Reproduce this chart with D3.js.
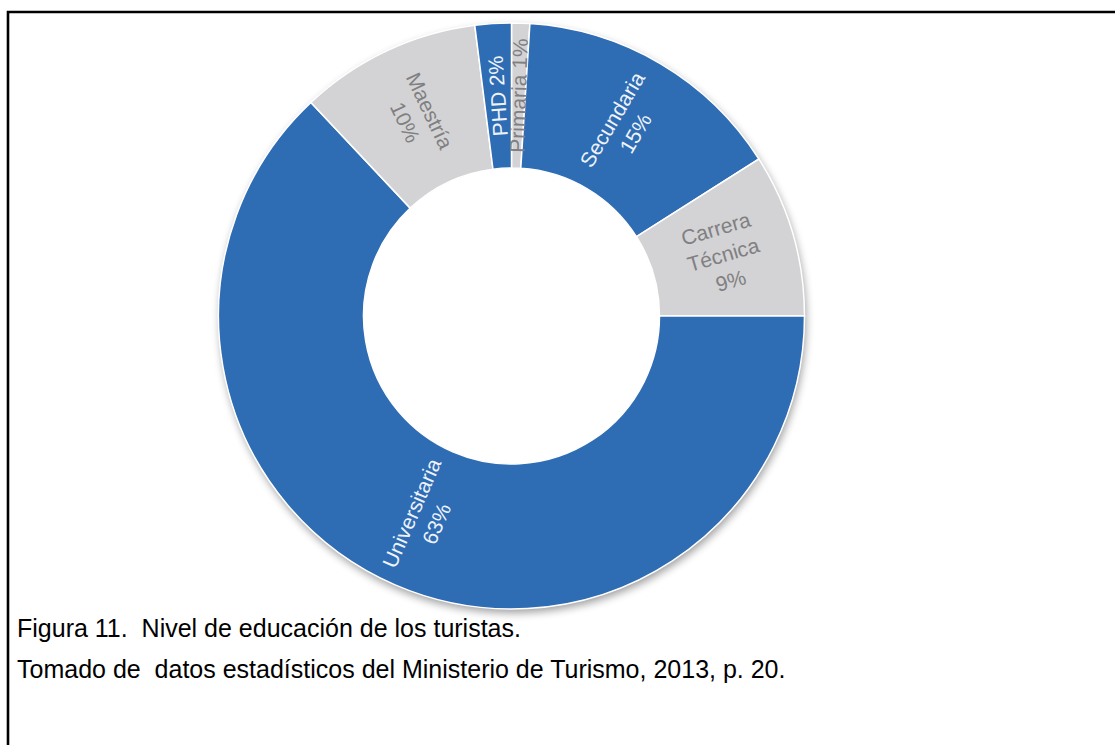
<!DOCTYPE html>
<html>
<head>
<meta charset="utf-8">
<script src="https://cdn.jsdelivr.net/npm/d3@7"></script>
<style>
  html, body { margin: 0; padding: 0; background: #fff; }
  svg { display: block; }
</style>
</head>
<body>
<svg id="chart" width="1115" height="745"></svg>
<script>
// Nivel de educación de los turistas (porcentaje)
const categories = ["Primaria", "Secundaria", "Carrera Técnica", "Universitaria", "Maestría", "PHD"];
const values = [1, 15, 9, 63, 10, 2];
// label lines drawn inside each slice
const labelLines = [
  ["Primaria 1%"],
  ["Secundaria", "15%"],
  ["Carrera", "Técnica", "9%"],
  ["Universitaria", "63%"],
  ["Maestría", "10%"],
  ["PHD 2%"]
];
const captionLines = [
  "Figura 11.  Nivel de educación de los turistas.",
  "Tomado de  datos estadísticos del Ministerio de Turismo, 2013, p. 20."
];

const BLUE = "#2e6cb3", GREY = "#d3d3d5";
const sliceFill = ["grey", "blue", "grey", "blue", "grey", "blue"];
const color = d3.scaleOrdinal().domain(["blue", "grey"]).range([BLUE, GREY]);
const textColor = d3.scaleOrdinal().domain(["blue", "grey"]).range(["#eef3fa", "#808082"]);

const svg = d3.select("#chart");
const W = 1115, H = 745;

// page frame
svg.append("path")
  .attr("d", `M8,${H + 10} L8,12 L${W + 10},12`)
  .attr("fill", "none").attr("stroke", "#000").attr("stroke-width", 2.6);

const cx = 511.5, cy = 316, rOuter = 293, rInner = 148;

const defs = svg.append("defs");
const f = defs.append("filter").attr("id", "shadow")
  .attr("x", "-20%").attr("y", "-20%").attr("width", "140%").attr("height", "140%");
f.append("feGaussianBlur").attr("stdDeviation", 4);

const g = svg.append("g").attr("transform", `translate(${cx},${cy})`);

// soft shadow under the ring
g.append("circle").attr("cx", 1.5).attr("cy", 4).attr("r", rOuter)
  .attr("fill", "#000").attr("opacity", 0.38).attr("filter", "url(#shadow)");
g.append("circle").attr("r", rInner).attr("fill", "#fff");

const data = categories.map((c, i) => ({ name: c, value: values[i], tone: sliceFill[i], lines: labelLines[i] }));
const pie = d3.pie().value(d => d.value).sort(null).startAngle(0).endAngle(2 * Math.PI);
const arc = d3.arc().innerRadius(rInner).outerRadius(rOuter);

const arcs = pie(data);

g.selectAll("path.slice").data(arcs).join("path")
  .attr("class", "slice")
  .attr("d", arc)
  .attr("fill", d => color(d.data.tone))
  .attr("stroke", "#fff").attr("stroke-width", 1.5);

// radial labels: text runs along the radius, kept upright
const fs = 21, lh = 27;
const labels = g.selectAll("g.lbl").data(arcs).join("g")
  .attr("class", "lbl")
  .attr("transform", d => {
    const [x, y] = arc.centroid(d);
    const mid = (d.startAngle + d.endAngle) / 2 * 180 / Math.PI;
    let rot = mid - 90;
    while (rot >= 80) rot -= 180;
    while (rot < -100) rot += 180;
    return `translate(${x},${y}) rotate(${rot})`;
  });

labels.each(function(d) {
  const n = d.data.lines.length;
  const t = d3.select(this).append("text")
    .attr("text-anchor", "middle")
    .attr("font-family", "'Liberation Sans', Arial, sans-serif")
    .attr("font-size", fs)
    .attr("fill", textColor(d.data.tone));
  d.data.lines.forEach((line, i) => {
    t.append("tspan").attr("x", 0)
      .attr("y", (i - (n - 1) / 2) * lh + fs * 0.36)
      .text(line);
  });
});

// caption
svg.selectAll("text.caption").data(captionLines).join("text")
  .attr("class", "caption")
  .attr("x", 17)
  .attr("y", (d, i) => 637 + i * 41)
  .attr("font-family", "'Liberation Sans', Arial, sans-serif")
  .attr("font-size", 25)
  .attr("fill", "#000")
  .style("white-space", "pre")
  .text(d => d);
</script>
</body>
</html>
